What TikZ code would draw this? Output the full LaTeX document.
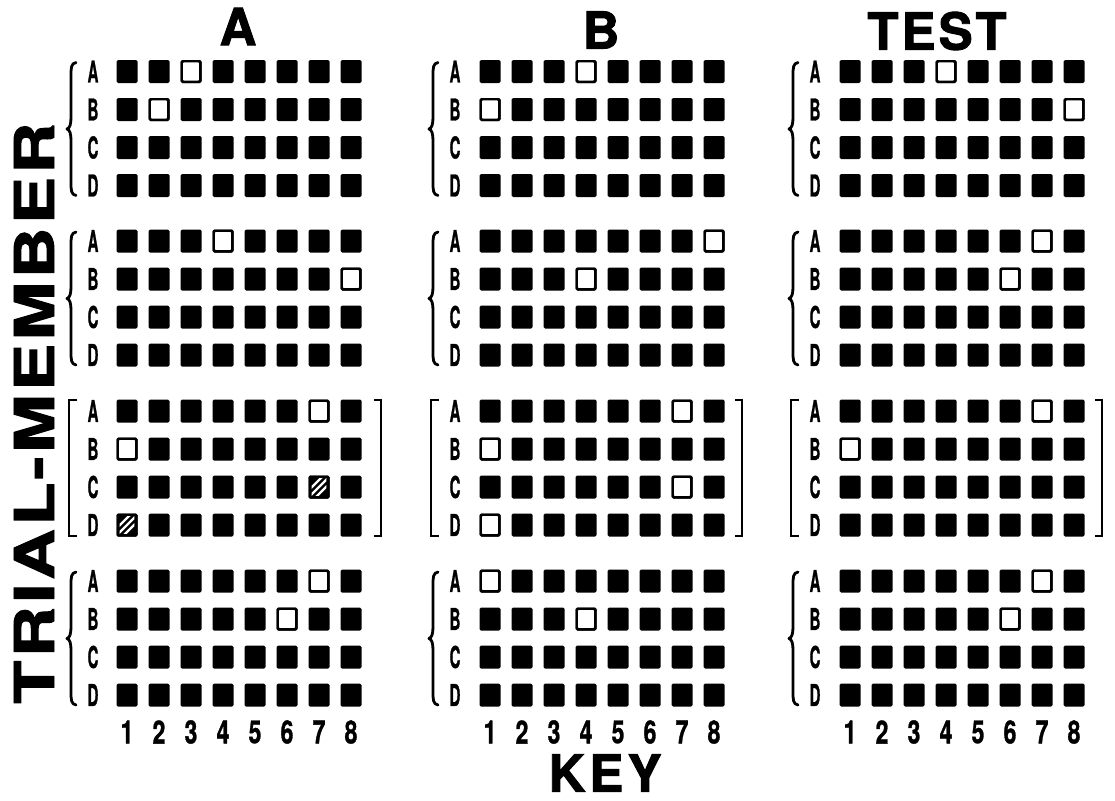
\documentclass[tikz,border=0pt]{standalone}
\usepackage{fontspec}
\usepackage{graphicx}
\setmainfont{TeX Gyre Heros}
\newfontfamily\heavy{texgyreheros-bold.otf}[FakeBold=1.2]
\newfontfamily\heavier{texgyreheros-bold.otf}[FakeBold=1.8]
\begin{document}
\begin{tikzpicture}[x=1pt,y=-1pt,
  blk/.style={fill=black,rounded corners=1.5pt},
  opensq/.style={fill=white,draw=black,line width=2.4pt,rounded corners=1.5pt},
  bracestyle/.style={draw=black,line width=2.8pt,line cap=round,line join=round},
  bracketstyle/.style={draw=black,line width=2.6pt,line join=miter},
  rowlab/.style={inner sep=0pt,font=\fontsize{30}{30}\selectfont\heavy},
  numlab/.style={inner sep=0pt,font=\fontsize{32}{32}\selectfont\heavy},
  title/.style={inner sep=0pt,font=\fontsize{51}{51}\selectfont\heavier}]
\useasboundingbox (0,0) rectangle (1115,800);
\fill[white] (0,0) rectangle (1115,800);

\newcommand\sqpos[4]{\pgfmathsetmacro\sx{#1+32*(#4-1)}\pgfmathsetmacro\sy{{71.5,241,411,581}[#2]+38*#3}}
\newcommand\opensquare[4]{\sqpos{#1}{#2}{#3}{#4}\filldraw[opensq] (\sx-9.3,\sy-10.3) rectangle (\sx+9.3,\sy+10.3);}
\newcommand\hatchsquare[4]{\sqpos{#1}{#2}{#3}{#4}
  \fill[blk] (\sx-10.5,\sy-11.5) rectangle (\sx+10.5,\sy+11.5);
  \begin{scope}
    \clip (\sx-7.3,\sy-8.3) rectangle (\sx+7.3,\sy+8.3);
    \foreach \o in {-7,0,7} \draw[white,line width=2.2pt] (\sx-10+\o,\sy+10) -- (\sx+10+\o,\sy-10);
  \end{scope}}

% panels
\foreach \cx/\lx/\bx/\rb/\pn in {127/93/71/381/A, 490/455/433/742/B, 850/815/793/1102/T} {
  \foreach \g/\gb in {0/71.5,1/241,2/411,3/581} {
    \foreach \r/\rl in {0/A,1/B,2/C,3/D} {
      \pgfmathsetmacro\sy{\gb+38*\r}
      \node[rowlab] (\pn-\g-\r) at (\lx,\sy) {\scalebox{0.5}[1]{\rl}};
      \foreach \c in {1,...,8} {
        \pgfmathsetmacro\sx{\cx+32*(\c-1)}
        \fill[blk] (\sx-10.5,\sy-11.5) rectangle (\sx+10.5,\sy+11.5);
      }
    }
    \pgfmathsetmacro\t{\gb-9}
    \pgfmathsetmacro\b{\gb+114+10}
    \pgfmathsetmacro\m{(\t+\b)/2}
    \ifnum\g=2
      \draw[bracketstyle] (\bx+6,\t-2) -- (\bx-2,\t-2) -- (\bx-2,\b+1) -- (\bx+6,\b+1);
      \draw[bracketstyle] (\rb-7,\t-2) -- (\rb,\t-2) -- (\rb,\b+1) -- (\rb-7,\b+1);
    \else
      \draw[bracestyle] (\bx+5,\t) .. controls (\bx,\t+1) and (\bx,\t+5) .. (\bx,\t+14)
        -- (\bx,\m-12) .. controls (\bx,\m-5) and (\bx-1,\m-1) .. (\bx-4,\m)
        .. controls (\bx-1,\m+1) and (\bx,\m+5) .. (\bx,\m+12)
        -- (\bx,\b-14) .. controls (\bx,\b-5) and (\bx,\b-1) .. (\bx+5,\b);
    \fi
  }
  \foreach \c in {1,...,8} {
    \pgfmathsetmacro\sx{\cx+32*(\c-1)}
    \node[numlab] (\pn-n\c) at (\sx,732) {\scalebox{0.72}[1]{\c}};
  }
}

% panel A open / hatched
\opensquare{127}{0}{0}{3} \opensquare{127}{0}{1}{2}
\opensquare{127}{1}{0}{4} \opensquare{127}{1}{1}{8}
\opensquare{127}{2}{0}{7} \opensquare{127}{2}{1}{1}
\hatchsquare{127}{2}{2}{7} \hatchsquare{127}{2}{3}{1}
\opensquare{127}{3}{0}{7} \opensquare{127}{3}{1}{6}
% panel B
\opensquare{490}{0}{0}{4} \opensquare{490}{0}{1}{1}
\opensquare{490}{1}{0}{8} \opensquare{490}{1}{1}{4}
\opensquare{490}{2}{0}{7} \opensquare{490}{2}{1}{1}
\opensquare{490}{2}{2}{7} \opensquare{490}{2}{3}{1}
\opensquare{490}{3}{0}{1} \opensquare{490}{3}{1}{4}
% panel TEST
\opensquare{850}{0}{0}{4} \opensquare{850}{0}{1}{8}
\opensquare{850}{1}{0}{7} \opensquare{850}{1}{1}{6}
\opensquare{850}{2}{0}{7} \opensquare{850}{2}{1}{1}
\opensquare{850}{3}{0}{7} \opensquare{850}{3}{1}{6}

% titles
\node[title] (tA) at (238,26.5) {A};
\node[title] (tB) at (601,30) {B};
\node[title] (tT) at (937,31) {\addfontfeature{LetterSpace=6}TEST};
\node[title] (key) at (605,773) {\addfontfeature{LetterSpace=8}KEY};
\node[inner sep=0pt,rotate=90,font=\heavier] (tm) at (34,422) {\resizebox{563pt}{40pt}{\addfontfeature{LetterSpace=5}TRIAL-MEMBER\hspace{-2.5pt}}};
\end{tikzpicture}
\end{document}
